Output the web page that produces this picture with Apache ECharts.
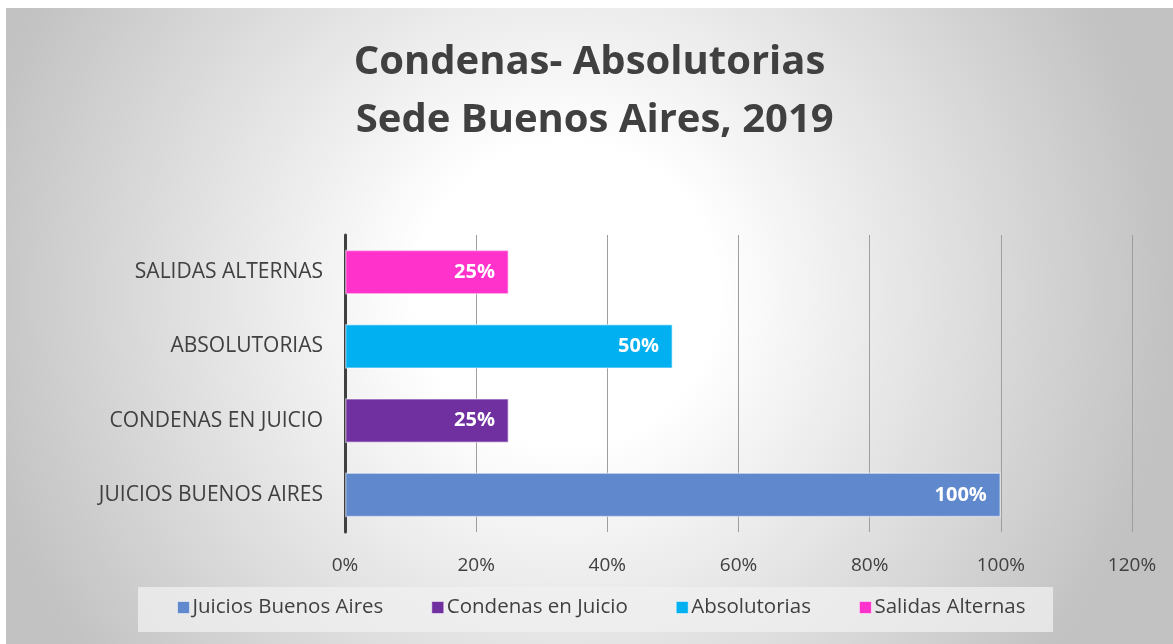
<!DOCTYPE html>
<html>
<head>
<meta charset="utf-8">
<script src="https://cdn.jsdelivr.net/npm/echarts@6/dist/echarts.min.js"></script>
<style>
  html, body { margin: 0; padding: 0; background: #fff; }
  #chart { position: absolute; left: 6px; top: 8px; width: 1167px; height: 636px; }
</style>
</head>
<body>
<div id="chart"></div>
<script>
  // datos del gráfico
  var categories = ['JUICIOS BUENOS AIRES', 'CONDENAS EN JUICIO', 'ABSOLUTORIAS', 'SALIDAS ALTERNAS']
  var seriesNames = ['Juicios Buenos Aires', 'Condenas en Juicio', 'Absolutorias', 'Salidas Alternas']
  var values = [100, 25, 50, 25]
  var colors = ['#6088cc', '#7030a0', '#00b0f0', '#ff33cc']

  var font = 'Open Sans'
  var chart = echarts.init(document.getElementById('chart'))

  // cada serie ocupa solo su categoría
  var series = seriesNames.map(function(name, i) {
    var data = categories.map(function(c, j) { return j === i ? values[i] : '-' })
    return {
      name: name,
      type: 'bar',
      stack: 'total',
      barWidth: '60%',
      data: data,
      itemStyle: {
        color: colors[i],
        borderColor: 'rgba(255,255,255,0.45)',
        borderWidth: 1.5
      },
      label: {
        show: true,
        position: 'insideRight',
        distance: 14,
        formatter: '{c}%',
        color: '#fff',
        fontFamily: font,
        fontWeight: 'bold',
        fontSize: 20
      }
    }
  })

  chart.setOption({
    backgroundColor: {
      type: 'radial', x: 0.48, y: 0.45, r: 0.95,
      colorStops: [
        { offset: 0, color: '#ffffff' },
        { offset: 0.25, color: '#ffffff' },
        { offset: 1, color: '#c2c2c2' }
      ]
    },
    animation: false,
    title: {
      text: 'Condenas- Absolutorias\n Sede Buenos Aires, 2019',
      left: 'center',
      top: 21,
      textStyle: {
        fontFamily: font,
        fontWeight: 'bold',
        fontSize: 40,
        lineHeight: 58,
        color: '#404040'
      }
    },
    graphic: [{
      type: 'rect',
      left: 132,
      top: 579,
      shape: { width: 915, height: 45 },
      style: { fill: 'rgba(240,240,240,0.75)' },
      z: -1
    }],
    legend: {
      bottom: 21,
      left: 166,
      itemWidth: 12,
      itemHeight: 12,
      itemGap: 48,
      textStyle: { fontFamily: font, fontSize: 20.5, color: '#404040', padding: [0, 0, 0, -2] },
      data: seriesNames.map(function(n, i) {
        return { name: n, icon: 'rect', itemStyle: { borderColor: 'rgba(255,255,255,0.5)', borderWidth: 1 } }
      })
    },
    grid: { left: 339, right: 41, top: 227, bottom: 112, containLabel: false },
    xAxis: {
      type: 'value',
      min: 0,
      max: 120,
      interval: 20,
      axisLine: { show: false },
      axisTick: { show: false },
      axisLabel: {
        formatter: '{value}%',
        margin: 24,
        fontFamily: font,
        fontSize: 19,
        color: '#404040'
      },
      splitLine: { lineStyle: { color: '#9e9e9e', width: 1 } }
    },
    yAxis: {
      type: 'category',
      data: categories,
      axisLine: { lineStyle: { color: '#404040', width: 3 } },
      axisTick: { show: false },
      axisLabel: {
        margin: 22,
        fontFamily: font,
        fontSize: 21,
        color: '#404040'
      }
    },
    series: series
  })
</script>
</body>
</html>
